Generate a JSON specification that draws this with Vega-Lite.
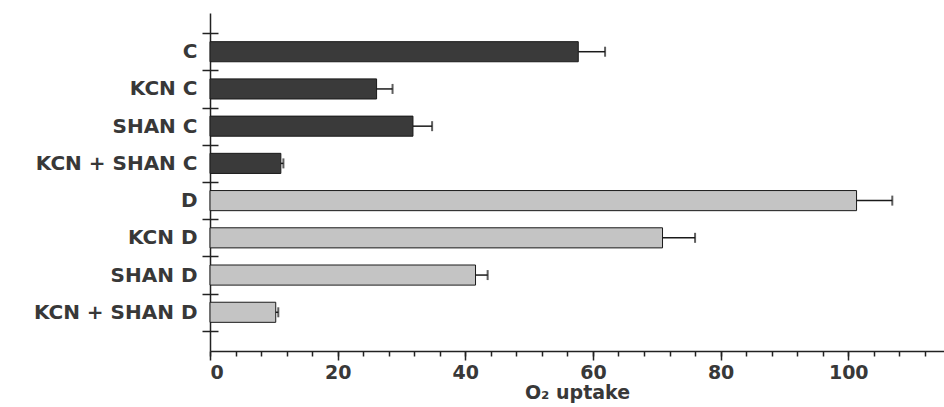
{
  "$schema": "https://vega.github.io/schema/vega-lite/v6.json",
  "width": 734,
  "height": 338,
  "autosize": "none",
  "padding": {"left": 210, "top": 13, "right": 0, "bottom": 56},
  "background": "white",
  "config": {
    "view": {"stroke": null},
    "axis": {
      "labelFont": "DejaVu Sans",
      "titleFont": "DejaVu Sans",
      "domainColor": "#222222",
      "tickColor": "#222222",
      "labelColor": "#383838",
      "titleColor": "#383838"
    }
  },
  "data": {
    "values": [
      {"label": "C", "group": "C", "value": 57.7, "hi": 61.9},
      {"label": "KCN C", "group": "C", "value": 26.1, "hi": 28.6},
      {"label": "SHAN C", "group": "C", "value": 31.8, "hi": 34.8},
      {"label": "KCN + SHAN C", "group": "C", "value": 11.1, "hi": 11.5},
      {"label": "D", "group": "D", "value": 101.3, "hi": 106.9},
      {"label": "KCN D", "group": "D", "value": 70.9, "hi": 76.0},
      {"label": "SHAN D", "group": "D", "value": 41.6, "hi": 43.5},
      {"label": "KCN + SHAN D", "group": "D", "value": 10.3, "hi": 10.7}
    ]
  },
  "layer": [
    {
      "mark": {"type": "bar", "height": {"band": 0.54}, "stroke": "#1a1a1a", "strokeWidth": 1},
      "encoding": {
        "y": {
          "field": "label", "type": "nominal", "sort": null,
          "scale": {
            "domain": ["C", "KCN C", "SHAN C", "KCN + SHAN C", "D", "KCN D", "SHAN D", "KCN + SHAN D"],
            "paddingInner": 0, "paddingOuter": 0.54
          },
          "axis": {
            "title": null, "tickBand": "extent", "tickSize": 8, "labelPadding": 5,
            "labelFontSize": 20, "labelFontWeight": "bold", "domainWidth": 1.5,
            "tickWidth": 1.5, "labelLimit": 300
          }
        },
        "x": {
          "field": "value", "type": "quantitative",
          "scale": {"domain": [0, 115], "nice": false, "zero": true},
          "axis": {
            "values": [0, 4, 8, 12, 16, 20, 24, 28, 32, 36, 40, 44, 48, 52, 56, 60, 64, 68, 72, 76, 80, 84, 88, 92, 96, 100, 104, 108, 112],
            "labelExpr": "datum.value % 20 === 0 ? datum.label : ''",
            "tickSize": 5, "labelPadding": 7, "labelOverlap": false,
            "labelFontSize": 19, "labelFontWeight": "bold", "title": "O₂ uptake", "titleFontSize": 19,
            "titleFontWeight": "bold", "titlePadding": 1, "grid": false,
            "domainWidth": 1.5, "tickWidth": 1.5
          }
        },
        "color": {
          "field": "group", "type": "nominal",
          "scale": {"domain": ["C", "D"], "range": ["#3a3a3a", "#c4c4c4"]},
          "legend": null
        }
      }
    },
    {
      "mark": {"type": "rule", "strokeWidth": 1.5, "color": "#1a1a1a"},
      "encoding": {
        "y": {
          "field": "label", "type": "nominal", "sort": null,
          "axis": {
            "title": null, "labels": false, "domain": false, "tickBand": "extent",
            "tickSize": -8, "tickWidth": 1.5, "orient": "left"
          }
        },
        "x": {"field": "value", "type": "quantitative", "axis": null},
        "x2": {"field": "hi"}
      }
    },
    {
      "mark": {"type": "tick", "size": 10, "thickness": 2, "color": "#1a1a1a"},
      "encoding": {
        "y": {"field": "label", "type": "nominal", "sort": null, "axis": null},
        "x": {
          "field": "hi", "type": "quantitative",
          "axis": {
            "orient": "bottom", "values": [0, 20, 40, 60, 80, 100],
            "labels": false, "domain": false, "tickSize": 9, "title": null,
            "grid": false, "tickWidth": 1.5, "tickColor": "#222222"
          }
        }
      }
    }
  ],
  "resolve": {"axis": {"x": "independent", "y": "independent"}}
}
